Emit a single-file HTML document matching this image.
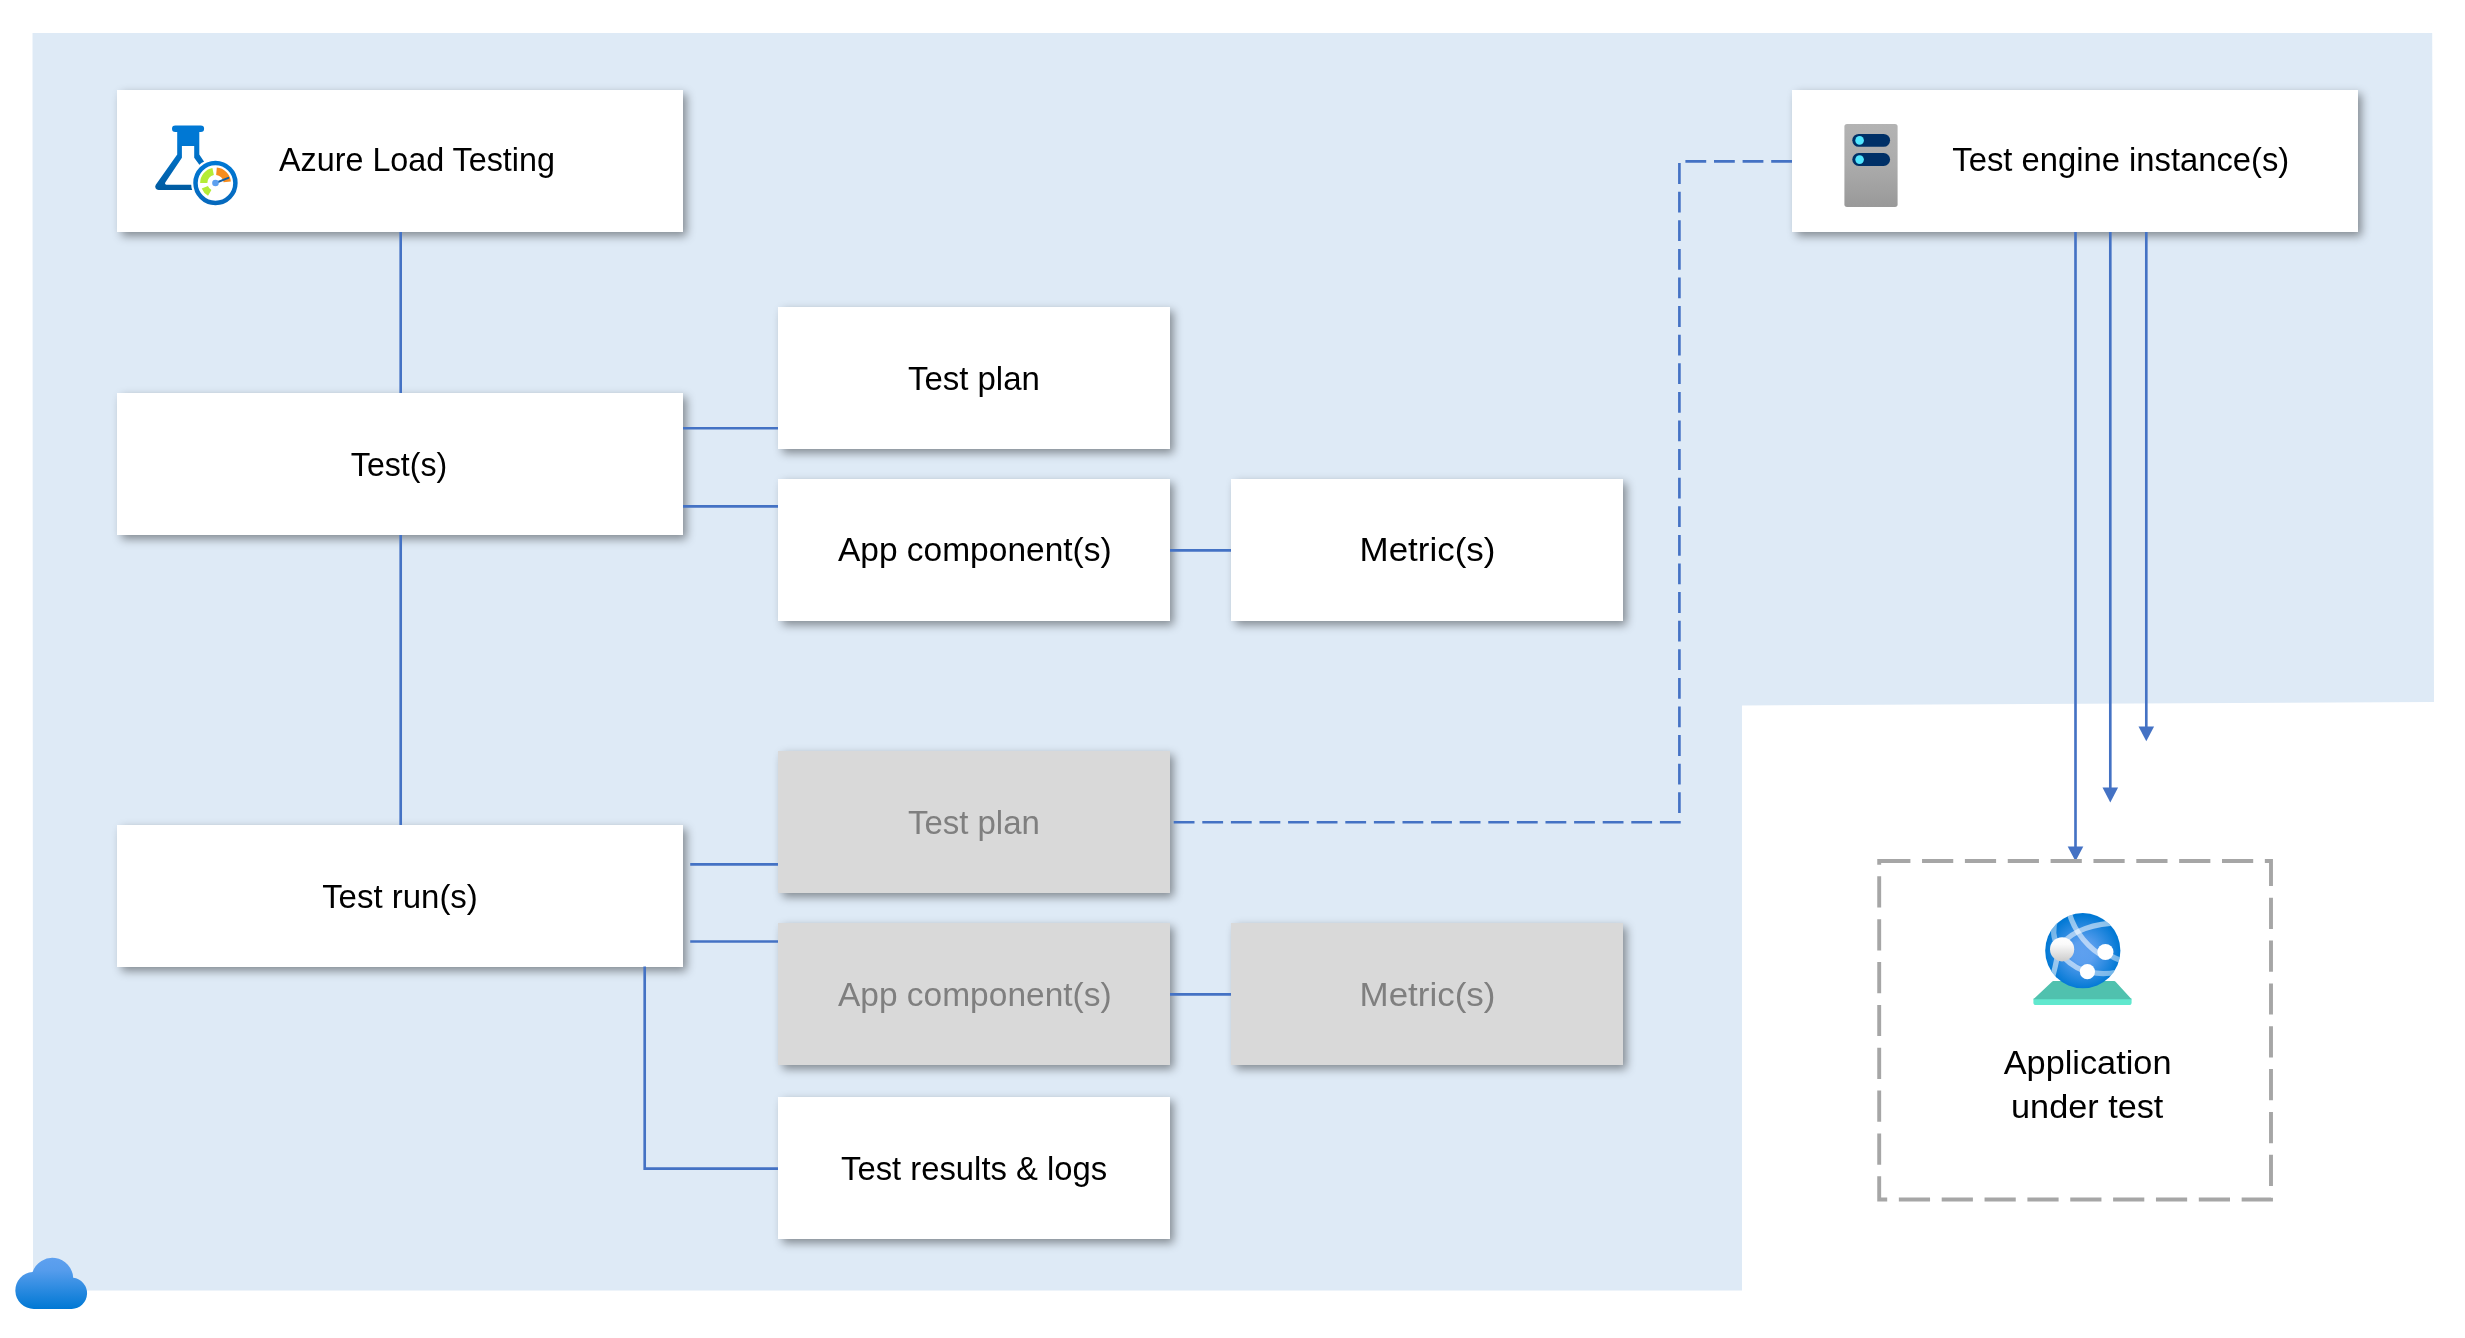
<!DOCTYPE html>
<html lang="en">
<head>
<meta charset="utf-8">
<title>Azure Load Testing architecture</title>
<style>
  html, body { margin: 0; padding: 0; background: #ffffff; }
  body { width: 2465px; height: 1338px; overflow: hidden; position: relative;
         font-family: "Liberation Sans", sans-serif; }
  #stage { position: absolute; left: 0; top: 0; width: 2465px; height: 1338px; }
  svg { position: absolute; left: 0; top: 0; }
  .box { position: absolute; background: #ffffff;
         box-shadow: 3.5px 4px 9px rgba(0,0,0,0.42); }
  .gray { background: #d9d9d9; }
  text { font-family: "Liberation Sans", sans-serif; font-size: 32.5px; fill: #000000; }
  text.g { fill: #7f7f7f; }
</style>
</head>
<body>
<div id="stage">

<!-- background layer -->
<svg width="2465" height="1338" viewBox="0 0 2465 1338">
  <polygon points="32.5,33 2432.2,33 2434,702 1742,705.5 1742,1290.5 33,1290.5" fill="#deeaf6"/>
</svg>

<!-- boxes -->
<div class="box" style="left:117px;top:90px;width:566px;height:142px"></div>
<div class="box" style="left:1792px;top:90px;width:566px;height:142px"></div>
<div class="box" style="left:117px;top:393px;width:566px;height:142px"></div>
<div class="box" style="left:778px;top:307px;width:392px;height:142px"></div>
<div class="box" style="left:778px;top:479px;width:392px;height:142px"></div>
<div class="box" style="left:1231px;top:479px;width:392px;height:142px"></div>
<div class="box" style="left:117px;top:825px;width:566px;height:142px"></div>
<div class="box gray" style="left:778px;top:751px;width:392px;height:142px"></div>
<div class="box gray" style="left:778px;top:923px;width:392px;height:142px"></div>
<div class="box gray" style="left:1231px;top:923px;width:392px;height:142px"></div>
<div class="box" style="left:778px;top:1097px;width:392px;height:142px"></div>

<!-- lines, icons, labels -->
<svg id="fg" style="will-change:transform" width="2465" height="1338" viewBox="0 0 2465 1338">
  <defs>
    <linearGradient id="gFlask" x1="0" y1="0" x2="0" y2="1">
      <stop offset="0" stop-color="#0078d4"/><stop offset="0.25" stop-color="#0078d4"/><stop offset="1" stop-color="#005ba1"/>
    </linearGradient>
    <linearGradient id="gRing" x1="0" y1="0" x2="0" y2="1">
      <stop offset="0" stop-color="#0078d4"/><stop offset="1" stop-color="#0669bd"/>
    </linearGradient>
    <linearGradient id="gSrv" x1="0" y1="0" x2="0" y2="1">
      <stop offset="0" stop-color="#b3b3b3"/><stop offset="0.5" stop-color="#ababab"/><stop offset="1" stop-color="#999999"/>
    </linearGradient>
    <linearGradient id="gCloud" x1="0" y1="0" x2="0" y2="1">
      <stop offset="0" stop-color="#5ea0ef"/><stop offset="0.25" stop-color="#559cec"/><stop offset="1" stop-color="#0078d4"/>
    </linearGradient>
    <radialGradient id="gGlobe" cx="0.5" cy="0.52" r="0.5">
      <stop offset="0" stop-color="#5ea0ef"/><stop offset="0.3" stop-color="#5a9eee"/><stop offset="1" stop-color="#0078d4"/>
    </radialGradient>
    <linearGradient id="gDot" x1="0" y1="0" x2="0" y2="1">
      <stop offset="0" stop-color="#ffffff"/><stop offset="0.3" stop-color="#fafafa"/><stop offset="1" stop-color="#cccccc"/>
    </linearGradient>
    <clipPath id="cGlobe"><circle cx="2082.8" cy="950.7" r="37.6"/></clipPath>
  </defs>

  <!-- connectors -->
  <g fill="none" stroke="#4472c4" stroke-width="2.65">
    <path d="M400.7 232V393"/>
    <path d="M400.7 535V825"/>
    <path d="M683 428.2H778"/>
    <path d="M683 506.3H778"/>
    <path d="M1170 550.3H1231"/>
    <path d="M690.2 864.3H778"/>
    <path d="M690.2 941.5H778"/>
    <path d="M1170 994.4H1231"/>
    <path d="M644.7 966.6V1168.6H778"/>
    <path d="M1792 161.3H1679.4V822.2H1173" stroke-dasharray="20.8 7.8"/>
    <path d="M2075.5 232V848"/>
    <path d="M2110.3 232V789"/>
    <path d="M2146.3 232V728"/>
  </g>
  <g fill="#4472c4">
    <polygon points="2067.7,846.4 2083.3,846.4 2075.5,861.2"/>
    <polygon points="2102.5,787.6 2118.1,787.6 2110.3,802.4"/>
    <polygon points="2138.5,726.4 2154.1,726.4 2146.3,741.2"/>
  </g>

  <!-- application under test dashed frame -->
  <rect x="1879.2" y="861" width="391.8" height="338.5" fill="none" stroke="#a6a6a6" stroke-width="3.9" stroke-dasharray="31.2 11.65"/>

  <!-- Azure Load Testing icon -->
  <g id="icoLoad">
    <path fill="url(#gFlask)" d="M175.3 125.5H200.8A3.3 3.3 0 0 1 200.8 132.1H199.3V154.4L216 179.5V190.1H158.6A3.4 3.4 0 0 1 155.8 184.8L177.2 154.4V132.1H175.3A3.3 3.3 0 0 1 175.3 125.5ZM181.9 145.9V157.7L165.3 182.6A1.4 1.4 0 0 0 166.5 184.8H212V182.1L194.2 157.7V145.9Z"/>
    <circle cx="215.45" cy="183" r="24.4" fill="#ffffff"/>
    <circle cx="215.45" cy="183" r="19.95" fill="#ffffff" stroke="url(#gRing)" stroke-width="4.5"/>
    <path id="segG1" fill="#b4ec36" d="M200.15 183.00A15.3 15.3 0 0 1 212.40 168.01L213.84 175.06A8.1 8.1 0 0 0 207.35 183.00Z"/>
    <path id="segG2" fill="#b4ec36" d="M208.05 195.82A14.8 14.8 0 0 1 201.73 188.54L207.94 186.03A8.1 8.1 0 0 0 211.40 190.01Z"/>
    <path id="segO" fill="#f78d1e" d="M216.80 167.56A15.5 15.5 0 0 1 230.87 181.38L223.51 182.15A8.1 8.1 0 0 0 216.16 174.93Z"/>
    <path d="M215.45 183L228.4 177.8" stroke="#0f5ea8" stroke-width="1.9" stroke-linecap="round" fill="none"/>
    <circle cx="215.45" cy="183" r="3.3" fill="#5ea0ef"/>
  </g>

  <!-- server icon -->
  <g id="icoSrv">
    <rect x="1844.4" y="124" width="53.2" height="82.9" rx="2.6" fill="url(#gSrv)"/>
    <rect x="1852.3" y="133.9" width="37.8" height="12.9" rx="6.45" fill="#003067"/>
    <rect x="1852.3" y="153.1" width="37.8" height="12.9" rx="6.45" fill="#003067"/>
    <circle cx="1859.6" cy="140.4" r="4.3" fill="#50e6ff"/>
    <circle cx="1859.6" cy="159.6" r="4.3" fill="#50e6ff"/>
  </g>

  <!-- app service icon -->
  <g id="icoApp">
    <path fill="#61e8ce" d="M2033.4 998.4H2131.6V1002.4A2.6 2.6 0 0 1 2129 1005H2036A2.6 2.6 0 0 1 2033.4 1002.4Z"/>
    <path fill="#50c1ae" d="M2053.4 981.1H2114.2A2 2 0 0 1 2115.6 981.7L2131.6 999.3H2033.4L2052 981.7A2 2 0 0 1 2053.4 981.1Z"/>
    <circle cx="2082.8" cy="950.7" r="37.6" fill="url(#gGlobe)"/>
    <g clip-path="url(#cGlobe)" fill="none" stroke="#ffffff" stroke-opacity="0.55" stroke-width="5.3">
      <path d="M2069 912C2074 932 2090 950 2105 957"/>
      <path d="M2062 944C2072 931 2094 923 2120 923"/>
      <path d="M2062 956C2070 964 2080 971 2090 972"/>
      <path d="M2090 972C2098 974 2108 974 2118 972" stroke-opacity="0.45"/>
      <path d="M2105 952C2112 957 2118 960 2124 961" stroke-opacity="0.45"/>
      <path d="M2056 918C2052 930 2054 940 2058 946" stroke-opacity="0.45"/>
      <path d="M2057 958C2055 968 2054 974 2050 984" stroke-opacity="0.55"/>
    </g>
    <circle cx="2062.1" cy="949.3" r="12.1" fill="url(#gDot)"/>
    <circle cx="2105.4" cy="952" r="8.1" fill="#ffffff"/>
    <circle cx="2087.4" cy="971.7" r="7.6" fill="#ffffff"/>
  </g>

  <!-- cloud icon -->
  <g id="icoCloud">
    <path fill="url(#gCloud)" d="M33.87 1308.9A18.47 18.47 0 0 1 32.6 1272A20.87 20.87 0 0 1 73.2 1277.8A15.6 15.6 0 0 1 71.7 1308.9Z"/>
  </g>

  <!-- labels -->
  <g id="labels">
    <text id="t1" x="417" y="170.8" text-anchor="middle" textLength="275.9" lengthAdjust="spacingAndGlyphs">Azure Load Testing</text>
    <text id="t2" x="2120.8" y="170.7" text-anchor="middle" textLength="336.9" lengthAdjust="spacingAndGlyphs">Test engine instance(s)</text>
    <text id="t3" x="399" y="475.8" text-anchor="middle" textLength="96.3" lengthAdjust="spacingAndGlyphs">Test(s)</text>
    <text id="t4" x="973.9" y="389.8" text-anchor="middle" textLength="132.0" lengthAdjust="spacingAndGlyphs">Test plan</text>
    <text id="t5" x="974.8" y="561.4" text-anchor="middle" textLength="273.7" lengthAdjust="spacingAndGlyphs">App component(s)</text>
    <text id="t6" x="1427.5" y="561.4" text-anchor="middle" textLength="135.9" lengthAdjust="spacingAndGlyphs">Metric(s)</text>
    <text id="t7" x="400" y="907.9" text-anchor="middle" textLength="155.7" lengthAdjust="spacingAndGlyphs">Test run(s)</text>
    <text id="t8" class="g" x="973.9" y="833.7" text-anchor="middle" textLength="132.0" lengthAdjust="spacingAndGlyphs">Test plan</text>
    <text id="t9" class="g" x="974.8" y="1005.7" text-anchor="middle" textLength="273.7" lengthAdjust="spacingAndGlyphs">App component(s)</text>
    <text id="t10" class="g" x="1427.5" y="1005.7" text-anchor="middle" textLength="135.9" lengthAdjust="spacingAndGlyphs">Metric(s)</text>
    <text id="t11" x="974.1" y="1179.7" text-anchor="middle" textLength="266.1" lengthAdjust="spacingAndGlyphs">Test results &amp; logs</text>
    <text id="t12" x="2087.6" y="1073.7" text-anchor="middle" textLength="167.8" lengthAdjust="spacingAndGlyphs">Application</text>
    <text id="t13" x="2087.2" y="1117.9" text-anchor="middle" textLength="152.3" lengthAdjust="spacingAndGlyphs">under test</text>
  </g>
</svg>
</div>
</body>
</html>
